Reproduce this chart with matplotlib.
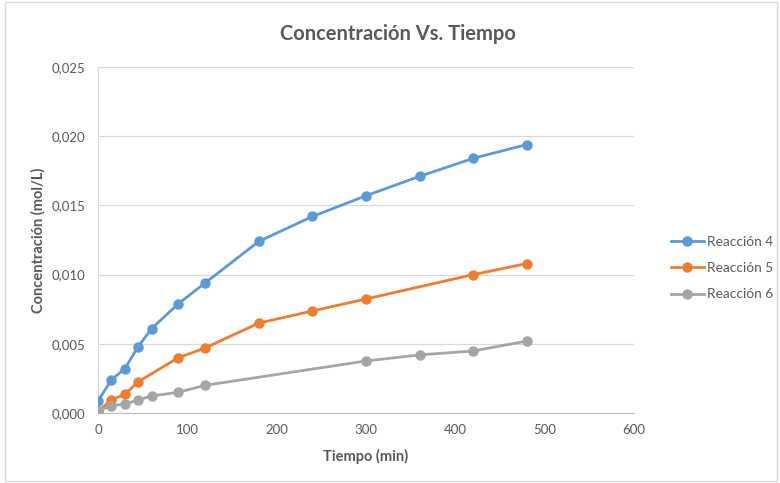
import matplotlib.pyplot as plt
from matplotlib.ticker import FuncFormatter
from matplotlib.patches import Rectangle

plt.rcParams['font.family'] = ['Lato', 'DejaVu Sans']

# data
t4 = [0, 15, 30, 45, 60, 90, 120, 180, 240, 300, 360, 420, 480]
c4 = [0.00087, 0.0024, 0.0032, 0.0048, 0.0061, 0.0079, 0.0094, 0.0124,
      0.0142, 0.0157, 0.0171, 0.0184, 0.0194]
t5 = [0, 15, 30, 45, 90, 120, 180, 240, 300, 420, 480]
c5 = [0.00012, 0.00094, 0.00135, 0.00226, 0.0040, 0.0047, 0.0065, 0.00737,
      0.00824, 0.0100, 0.0108]
t6 = [0, 15, 30, 45, 60, 90, 120, 300, 360, 420, 480]
c6 = [0.00014, 0.00053, 0.00065, 0.00094, 0.00123, 0.0015, 0.0020, 0.00376,
      0.0042, 0.00448, 0.0052]
labels = ['Reacción 4', 'Reacción 5', 'Reacción 6']
colors = ['#5b9bd5', '#ed7d31', '#a5a5a5']

txt = '#595959'
fig = plt.figure(figsize=(7.8, 4.83), dpi=100)
ax = fig.add_axes([98 / 780, 1 - 413 / 483, 536 / 780, 346 / 483])

for t, c, lab, col in zip([t4, t5, t6], [c4, c5, c6], labels, colors):
    ax.plot(t, c, color=col, lw=2, marker='o', ms=6.5, label=lab, zorder=3)

ax.set_xlim(0, 600)
ax.set_ylim(0, 0.025)
ax.set_xticks(range(0, 601, 100))
ax.set_yticks([0, 0.005, 0.010, 0.015, 0.020, 0.025])
ax.yaxis.set_major_formatter(FuncFormatter(lambda v, p: f'{v:.3f}'.replace('.', ',')))
ax.grid(axis='y', color='#d9d9d9', lw=0.9)
ax.set_axisbelow(True)
for s in ['top', 'right']:
    ax.spines[s].set_visible(False)
ax.spines['left'].set_color('#d9d9d9')
ax.spines['bottom'].set_color('#bfbfbf')
ax.tick_params(length=0, labelsize=9.5, colors=txt, pad=8)
ax.tick_params(axis='y', pad=9)

ax.set_xlabel('Tiempo (min)', fontsize=10.5, fontweight='bold', color=txt, labelpad=9)
ax.set_ylabel('Concentración (mol/L)', fontsize=10.5, fontweight='bold', color=txt, labelpad=4)
fig.text(398 / 780, 1 - 34 / 483, 'Concentración Vs. Tiempo', ha='center', va='center',
         fontsize=14.5, fontweight='bold', color=txt)

leg = ax.legend(loc='center left', bbox_to_anchor=(671 / 780, 1 - 268 / 483),
                bbox_transform=fig.transFigure, frameon=False, fontsize=9.8,
                labelspacing=1.05, handlelength=2.4, handletextpad=0.25,
                borderpad=0, borderaxespad=0)
for tx in leg.get_texts():
    tx.set_color(txt)

fig.patches.append(Rectangle((0.006, 0.004), 0.99, 0.992, transform=fig.transFigure,
                             fill=False, edgecolor='#d9d9d9', lw=1))

fig.savefig('out.png', dpi=100)
